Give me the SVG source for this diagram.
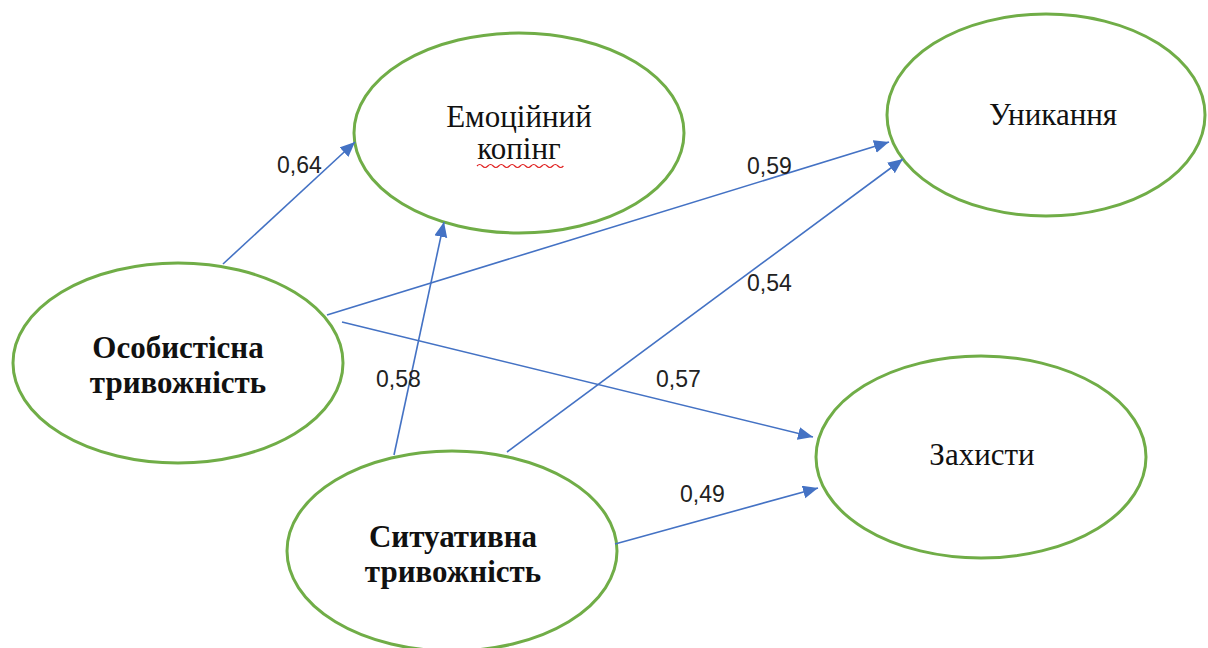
<svg xmlns="http://www.w3.org/2000/svg" width="1208" height="648" viewBox="0 0 1208 648">
<defs>
<marker id="ah" markerUnits="userSpaceOnUse" markerWidth="16" markerHeight="14" refX="15" refY="6.5" orient="auto">
<path d="M0,0 L15,6.5 L0,13 Z" fill="#4472C4"/>
</marker>
<style>
.node{fill:#fff;stroke:#70AD47;stroke-width:3}
.lbl{font-family:"Liberation Serif","Times New Roman",serif;font-size:31px;fill:#111;text-anchor:middle}
.b{font-weight:bold}
.edge{stroke:#4472C4;stroke-width:1.6;fill:none;marker-end:url(#ah)}
.num{font-family:"Liberation Sans",Arial,sans-serif;font-size:23px;fill:#222}
</style>
</defs>
<rect width="1208" height="648" fill="#fff"/>
<g id="n-emotsiinyi">
<ellipse class="node" cx="519" cy="133" rx="165" ry="100"/>
<text class="lbl" x="519" y="127">Емоційний</text>
<text class="lbl" x="519" y="159">копінг</text>
<path d="M477,166 q2.7,-3 5.4,0 t5.4,0 t5.4,0 t5.4,0 t5.4,0 t5.4,0 t5.4,0 t5.4,0 t5.4,0 t5.4,0 t5.4,0 t5.4,0 t5.4,0 t5.4,0 t5.4,0 t5.4,0" fill="none" stroke="#E02020" stroke-width="1.2"/>
</g>
<g id="n-unykannia">
<ellipse class="node" cx="1046" cy="115" rx="159" ry="101"/>
<text class="lbl" x="1053" y="125">Уникання</text>
</g>
<g id="n-osobystisna">
<ellipse class="node" cx="178" cy="363" rx="165" ry="100"/>
<text class="lbl b" x="178" y="358">Особистісна</text>
<text class="lbl b" x="178" y="393">тривожність</text>
</g>
<g id="n-sytuatyvna">
<ellipse class="node" cx="452" cy="551" rx="165" ry="100"/>
<text class="lbl b" x="453" y="547">Ситуативна</text>
<text class="lbl b" x="453" y="582">тривожність</text>
</g>
<g id="n-zakhysty">
<ellipse class="node" cx="981" cy="457" rx="165" ry="101"/>
<text class="lbl" x="982" y="465">Захисти</text>
</g>
<g id="connectors">
<line class="edge" x1="223" y1="264" x2="355" y2="142"/>
<line class="edge" x1="327" y1="315" x2="889" y2="142"/>
<line class="edge" x1="342" y1="322" x2="813" y2="437"/>
<line class="edge" x1="394" y1="455" x2="444" y2="222"/>
<line class="edge" x1="507" y1="452" x2="903" y2="159"/>
<line class="edge" x1="615" y1="544" x2="818" y2="488"/>
</g>
<g id="labels">
<text class="num" x="277" y="173">0,64</text>
<text class="num" x="747" y="174">0,59</text>
<text class="num" x="747" y="291">0,54</text>
<text class="num" x="376" y="387">0,58</text>
<text class="num" x="656" y="387">0,57</text>
<text class="num" x="680" y="502">0,49</text>
</g>
</svg>
